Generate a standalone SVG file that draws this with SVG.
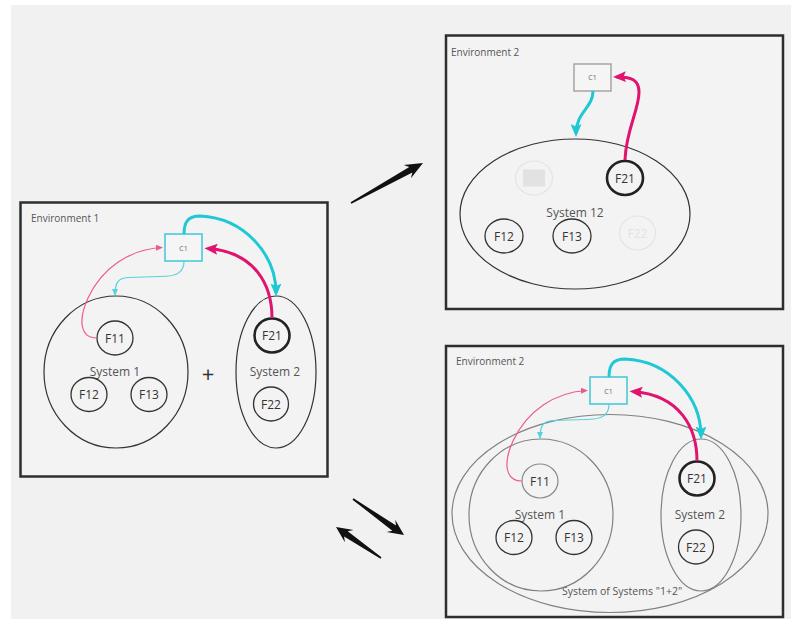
<svg xmlns="http://www.w3.org/2000/svg" width="791" height="619" viewBox="0 0 791 619">
<defs>
<style>
.env{fill:#f3f3f3;stroke:#2e2e2e;stroke-width:2.5}
.envt{font-family:"Open Sans","Liberation Sans",sans-serif;font-size:10px;fill:#555}
.sys{fill:none;stroke:#333;stroke-width:1.2}
.sysg{fill:none;stroke:#808080;stroke-width:1.2}
.sl{font-family:"Open Sans","Liberation Sans",sans-serif;font-size:12px;fill:#555;text-anchor:middle}
.fn{fill:#f3f3f3;stroke:#333;stroke-width:1.3}
.fng{fill:#f3f3f3;stroke:#8a8a8a;stroke-width:1.2}
.fnb{fill:#f3f3f3;stroke:#222;stroke-width:2.6}
.fnf{fill:none;stroke:#e4e4e4;stroke-width:1.2}
.ft{font-family:"Open Sans","Liberation Sans",sans-serif;font-size:12px;fill:#333;text-anchor:middle}
.c1{fill:#f5f5f5;stroke:#3cc8d6;stroke-width:1.5}
.c1g{fill:#f5f5f5;stroke:#a5a5a5;stroke-width:1.5}
.c1t{font-family:"Open Sans","Liberation Sans",sans-serif;font-size:7px;fill:#666;text-anchor:middle}
.ck{fill:none;stroke:#1ec8d4;stroke-width:3}
.mk{fill:none;stroke:#e0136f;stroke-width:3}
.cn{fill:none;stroke:#55d3dd;stroke-width:1.2}
.pn{fill:none;stroke:#ec5a92;stroke-width:1.2}
</style>
<marker id="hC" viewBox="0 0 13 11" refX="9.5" refY="5.5" markerWidth="13" markerHeight="11" markerUnits="userSpaceOnUse" orient="auto"><path d="M0,0 L13,5.5 L0,11 L2.5,5.5 z" fill="#1ec8d4"/></marker>
<marker id="hM" viewBox="0 0 13 11" refX="9.5" refY="5.5" markerWidth="13" markerHeight="11" markerUnits="userSpaceOnUse" orient="auto"><path d="M0,0 L13,5.5 L0,11 L2.5,5.5 z" fill="#e0136f"/></marker>
<marker id="hc" viewBox="0 0 7 6" refX="6" refY="3" markerWidth="7" markerHeight="6" markerUnits="userSpaceOnUse" orient="auto"><path d="M0,0 L7,3 L0,6 z" fill="#55d3dd"/></marker>
<marker id="hp" viewBox="0 0 7 6" refX="6" refY="3" markerWidth="7" markerHeight="6" markerUnits="userSpaceOnUse" orient="auto"><path d="M0,0 L7,3 L0,6 z" fill="#ec5a92"/></marker>
</defs>
<rect x="11" y="5" width="780" height="614" fill="#f1f1f1"/>

<!-- Environment 1 -->
<g id="env1">
<rect class="env" x="20.5" y="202.5" width="307" height="274"/>
<text class="envt" x="31" y="222">Environment 1</text>
</g>
<g id="e1-system1"><ellipse class="sys" cx="116" cy="372" rx="72" ry="76"/><text class="sl" x="115" y="376">System 1</text></g>
<g id="e1-f11"><ellipse class="fn" cx="115" cy="338" rx="18" ry="17"/><text class="ft" x="115" y="342.5">F11</text></g>
<g id="e1-f12"><ellipse class="fn" cx="89" cy="394.5" rx="18" ry="17"/><text class="ft" x="89" y="399">F12</text></g>
<g id="e1-f13"><ellipse class="fn" cx="149" cy="394.5" rx="18" ry="17"/><text class="ft" x="149" y="399">F13</text></g>
<g id="e1-plus"><text x="208" y="382" font-family="Open Sans, Liberation Sans, sans-serif" font-size="22" fill="#333" text-anchor="middle">+</text></g>
<g id="e1-system2"><ellipse class="sys" cx="276" cy="372" rx="40" ry="76"/><text class="sl" x="275" y="376">System 2</text></g>
<g id="e1-f21"><ellipse class="fnb" cx="272" cy="335.5" rx="17.5" ry="17"/><text class="ft" x="272" y="340">F21</text></g>
<g id="e1-f22"><ellipse class="fn" cx="271" cy="404" rx="17.5" ry="17"/><text class="ft" x="271" y="408.5">F22</text></g>
<g id="e1-c1"><rect class="c1" x="165" y="234" width="37" height="27"/><text class="c1t" x="183.5" y="250.5">C1</text></g>
<g id="e1-connectors">
<path class="pn" d="M97,338 C80,338 78,320 88,298 C102,268 130,249 162,247.5" marker-end="url(#hp)"/>
<path class="cn" d="M184,261 C184,272 178,276.5 160,276.5 L128,277.5 C118,278 115,283 115,295" marker-end="url(#hc)"/>
<path class="ck" d="M184,234 C184,222 188,216 200,216 C245,218 276,255 276,293" marker-end="url(#hC)"/>
<path class="mk" d="M272,318 C272,285 255,252 208,248.5" marker-end="url(#hM)"/>
</g>

<!-- Environment 2 (top) -->
<g id="env2a">
<rect class="env" x="446" y="35.5" width="337" height="273.5"/>
<text class="envt" x="451" y="56">Environment 2</text>
</g>
<g id="e2a-system12"><ellipse class="sys" cx="575" cy="214" rx="115" ry="75"/><text class="sl" x="575" y="217">System 12</text></g>
<g id="e2a-faded"><ellipse class="fnf" cx="534" cy="178" rx="18.5" ry="17"/><rect x="523" y="169.5" width="22" height="17" fill="#e2e2e2"/></g>
<g id="e2a-f21"><ellipse class="fnb" cx="625" cy="178" rx="18" ry="17"/><text class="ft" x="625" y="182.5">F21</text></g>
<g id="e2a-f12"><ellipse class="fn" cx="504" cy="236" rx="19" ry="17"/><text class="ft" x="504" y="240.5">F12</text></g>
<g id="e2a-f13"><ellipse class="fn" cx="572" cy="236" rx="19" ry="17"/><text class="ft" x="572" y="240.5">F13</text></g>
<g id="e2a-f22"><ellipse class="fnf" cx="637.5" cy="233" rx="18" ry="17"/><text class="ft" x="637.5" y="237.5" style="fill:#e2e2e2">F22</text></g>
<g id="e2a-c1"><rect class="c1g" x="574" y="64" width="37" height="27"/><text class="c1t" x="592.5" y="80">C1</text></g>
<g id="e2a-connectors">
<path class="ck" d="M593,91 C593,108 576,112 576,133.5" marker-end="url(#hC)"/>
<path class="mk" d="M625,160 C626,130 639,110 639,92 C639,80 631,76.5 616.5,77" marker-end="url(#hM)"/>
</g>

<!-- Environment 2 (bottom) -->
<g id="env2b">
<rect class="env" x="446" y="346" width="337" height="271"/>
</g>
<g id="e2b-sos"><ellipse class="sysg" cx="610" cy="513.5" rx="158" ry="99"/><text x="622" y="595" font-family="Open Sans, Liberation Sans, sans-serif" font-size="10.5" fill="#555" text-anchor="middle">System of Systems "1+2"</text></g>
<g transform="translate(425,143)">
<g id="e2b-label"><text class="envt" x="31" y="222">Environment 2</text></g>
<g id="e2b-system1"><ellipse class="sysg" cx="116" cy="372" rx="72" ry="76"/><text class="sl" x="115" y="376">System 1</text></g>
<g id="e2b-f11"><ellipse class="fng" cx="115" cy="338" rx="18" ry="17"/><text class="ft" x="115" y="342.5">F11</text></g>
<g id="e2b-f12"><ellipse class="fn" cx="89" cy="394.5" rx="18" ry="17"/><text class="ft" x="89" y="399">F12</text></g>
<g id="e2b-f13"><ellipse class="fn" cx="149" cy="394.5" rx="18" ry="17"/><text class="ft" x="149" y="399">F13</text></g>
<g id="e2b-system2"><ellipse class="sysg" cx="276" cy="372" rx="40" ry="76"/><text class="sl" x="275" y="376">System 2</text></g>
<g id="e2b-f21"><ellipse class="fnb" cx="272" cy="335.5" rx="17.5" ry="17"/><text class="ft" x="272" y="340">F21</text></g>
<g id="e2b-f22"><ellipse class="fn" cx="271" cy="404" rx="17.5" ry="17"/><text class="ft" x="271" y="408.5">F22</text></g>
<g id="e2b-c1"><rect class="c1" x="165" y="234" width="37" height="27"/><text class="c1t" x="183.5" y="250.5">C1</text></g>
<g id="e2b-connectors">
<path class="pn" d="M97,338 C80,338 78,320 88,298 C102,268 130,249 162,247.5" marker-end="url(#hp)"/>
<path class="cn" d="M184,261 C184,272 178,276.5 160,276.5 L128,277.5 C118,278 115,283 115,295" marker-end="url(#hc)"/>
<path class="ck" d="M184,234 C184,222 188,216 200,216 C245,218 276,255 276,293" marker-end="url(#hC)"/>
<path class="mk" d="M272,318 C272,285 255,252 208,248.5" marker-end="url(#hM)"/>
</g>
</g>

<!-- Big transition arrows -->
<g id="transitions" fill="#111">
<polygon points="351.4,203.7 412.35,172.6 410.9,178.3 423,163 403.7,165.1 409.25,167.0 350.6,202.3"/>
<polygon points="352.5,499.65 392.35,530.7 386.6,531.9 404,535 395.2,519.7 396.05,525.5 353.5,498.35"/>
<polygon points="381.45,557.3 347.7,531.2 353.5,529.9 336,527 344.9,542.3 344.1,536.4 380.55,558.7"/>
</g>
</svg>
